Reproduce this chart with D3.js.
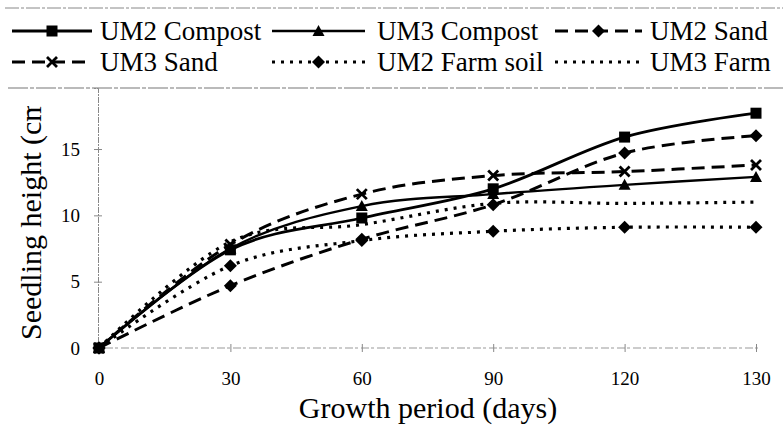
<!DOCTYPE html>
<html><head><meta charset="utf-8">
<script src="https://cdn.jsdelivr.net/npm/d3@7"></script>
<style>body{margin:0;background:#fff}svg{display:block}svg text{font-family:'Liberation Serif','Times New Roman',Times,'Nimbus Roman','DejaVu Serif',serif !important;fill:#000}</style>
</head><body><svg id="c" width="783" height="432"></svg>
<script>
const categories = ["0","30","60","90","120","130"];
const seriesNames = ["UM2 Compost","UM3 Compost","UM2 Sand","UM3 Sand","UM2 Farm soil","UM3 Farm soil"];
const legendLabels = ["UM2 Compost","UM3 Compost","UM2 Sand","UM3 Sand","UM2 Farm soil","UM3 Farm"];
const um2Compost = [0, 7.4, 9.8, 12.0, 15.9, 17.7];
const um3Compost = [0, 7.5, 10.7, 11.6, 12.3, 12.9];
const um2Sand    = [0, 4.7, 8.2, 10.8, 14.7, 16.0];
const um3Sand    = [0, 7.8, 11.6, 13.0, 13.3, 13.8];
const um2Farm    = [0, 6.2, 8.1, 8.8, 9.1, 9.1];
const um3Farm    = [0, 8.0, 9.3, 10.9, 10.9, 11.0];
const yTicks = [0, 5, 10, 15];

const allValues = [um2Compost, um3Compost, um2Sand, um3Sand, um2Farm, um3Farm];
const styles = [
  {dash:null, width:2.8, marker:"square"},
  {dash:null, width:2.4, marker:"triangle"},
  {dash:"13,7", width:3, marker:"diamond"},
  {dash:"13,7", width:3, marker:"x"},
  {dash:"3,6", width:3.2, marker:"diamond"},
  {dash:"3,6", width:3.2, marker:null}
];

const svg = d3.select("#c");
const x = d3.scalePoint().domain(categories).range([99, 756]);
const y = d3.scaleLinear().domain([0, 19.6]).range([348, 88]);

svg.append("line").attr("x1",5).attr("x2",783).attr("y1",8).attr("y2",8)
  .attr("stroke","#888").attr("stroke-width",1).attr("stroke-dasharray","14,2,3,2");
svg.append("line").attr("x1",8).attr("x2",783).attr("y1",88).attr("y2",88)
  .attr("stroke","#777").attr("stroke-width",1.2).attr("stroke-dasharray","20,2,4,2");

const yAxis = d3.axisLeft(y).tickValues(yTicks).tickSize(4).tickPadding(14).tickFormat(d3.format("d"));
const gy = svg.append("g").attr("transform","translate(98,0)").call(yAxis).attr("font-family",null);
gy.select(".domain").attr("stroke","#888").attr("stroke-dasharray","6,1,2,1");
gy.selectAll(".tick line").attr("stroke","#888").attr("x2",4).attr("x1",-4);
gy.selectAll(".tick text").attr("font-size",19);

const xAxis = d3.axisBottom(x).tickSize(4).tickPadding(20);
const gx = svg.append("g").attr("transform","translate(0,348)").call(xAxis).attr("font-family",null);
gx.select(".domain").attr("stroke","#999").attr("stroke-dasharray","3,3,8,2")
  .attr("d","M99,0H760");
gx.selectAll(".tick line").attr("stroke","#888").attr("y1",-4).attr("y2",4);
gx.selectAll(".tick text").attr("font-size",19);

svg.append("text").attr("x",428).attr("y",418).attr("text-anchor","middle")
  .attr("font-size",30).text("Growth period (days)");
svg.append("clipPath").attr("id","tclip").append("rect").attr("x",0).attr("y",106).attr("width",60).attr("height",300);
svg.append("g").attr("clip-path","url(#tclip)")
  .append("text").attr("transform","translate(41,340) rotate(-90)").attr("text-anchor","start")
  .attr("font-size",30).text("Seedling height (cm)");

function drawMarker(g, type, cx, cy) {
  if (type === "square") {
    g.append("rect").attr("x",cx-5.5).attr("y",cy-5.5).attr("width",11).attr("height",11).attr("fill","#000");
  } else if (type === "triangle") {
    g.append("path").attr("d",`M${cx},${cy-6}L${cx+6},${cy+5}L${cx-6},${cy+5}Z`).attr("fill","#000");
  } else if (type === "diamond") {
    g.append("path").attr("d",`M${cx},${cy-6.5}L${cx+6.5},${cy}L${cx},${cy+6.5}L${cx-6.5},${cy}Z`).attr("fill","#000");
  } else if (type === "x") {
    g.append("path").attr("d",`M${cx-5},${cy-5}L${cx+5},${cy+5}M${cx+5},${cy-5}L${cx-5},${cy+5}`)
      .attr("stroke","#000").attr("stroke-width",2.8);
  }
}

const line = d3.line().x((d,i)=>x(categories[i])).y(d=>y(d)).curve(d3.curveCardinal.tension(0));
const plot = svg.append("g");
allValues.forEach((vals, s) => {
  const st = styles[s];
  plot.append("path").datum(vals).attr("d", line).attr("fill","none")
    .attr("stroke","#000").attr("stroke-width", st.width)
    .attr("stroke-dasharray", st.dash);
});
allValues.forEach((vals, s) => {
  const st = styles[s];
  if (!st.marker) return;
  const mg = plot.append("g");
  vals.forEach((v,i) => drawMarker(mg, st.marker, x(categories[i]), y(v)));
});

const colX0 = [12, 272, 555], colX1 = [92, 365, 642], colTx = [100, 377, 650];
const rowY = [31, 62];
const lg = svg.append("g");
legendLabels.forEach((lab, s) => {
  const r = Math.floor(s/3), c = s%3, st = styles[s];
  lg.append("line").attr("x1",colX0[c]).attr("x2",colX1[c]).attr("y1",rowY[r]).attr("y2",rowY[r])
    .attr("stroke","#000").attr("stroke-width",st.width).attr("stroke-dasharray",st.dash);
  if (st.marker) drawMarker(lg, st.marker, (colX0[c]+colX1[c])/2, rowY[r]);
  lg.append("text").attr("x",colTx[c]).attr("y",rowY[r]+9).attr("font-size",27).text(lab);
});
</script></body></html>
